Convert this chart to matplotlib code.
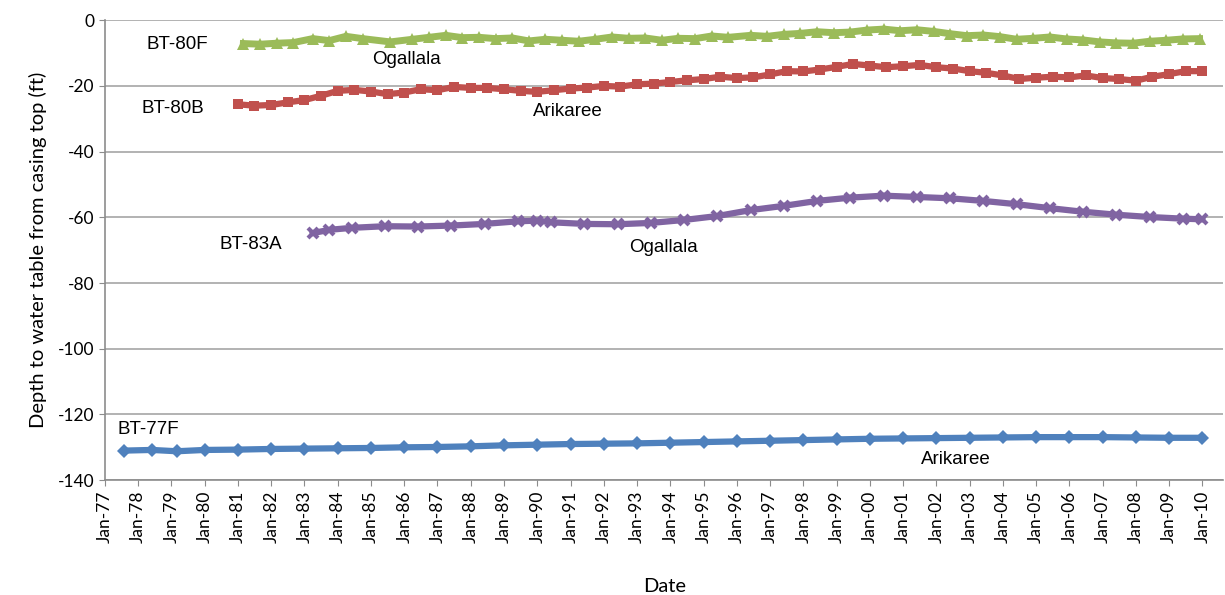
import matplotlib
matplotlib.use("Agg")
import matplotlib.pyplot as plt
import matplotlib.dates as mdates
import pandas as pd

plt.rcParams['axes.unicode_minus'] = False

# BT-80F (Ogallala)
dates_80f = ["1981-03", "1981-09", "1982-03", "1982-09", "1983-04", "1983-10", "1984-04", "1984-10",
             "1985-08", "1986-04", "1986-10", "1987-04", "1987-10", "1988-04", "1988-10", "1989-04",
             "1989-10", "1990-04", "1990-10", "1991-04", "1991-10", "1992-04", "1992-10", "1993-04",
             "1993-10", "1994-04", "1994-10", "1995-04", "1995-10", "1996-06", "1996-12", "1997-06",
             "1997-12", "1998-06", "1998-12", "1999-06", "1999-12", "2000-06", "2000-12", "2001-06",
             "2001-12", "2002-06", "2002-12", "2003-06", "2003-12", "2004-06", "2004-12", "2005-06",
             "2005-12", "2006-06", "2006-12", "2007-06", "2007-12", "2008-06", "2008-12", "2009-06",
             "2009-12"]
depth_80f = [-7.1, -7.3, -7.0, -6.8, -5.6, -6.2, -4.9, -5.6,
             -6.6, -5.8, -5.2, -4.6, -5.3, -5.2, -5.6, -5.4,
             -6.3, -5.8, -6.1, -6.4, -5.8, -5.1, -5.5, -5.4,
             -6.1, -5.5, -5.6, -4.8, -5.2, -4.6, -4.9, -4.3,
             -4.0, -3.5, -3.8, -3.6, -3.0, -2.7, -3.2, -2.9,
             -3.4, -4.1, -4.7, -4.5, -5.0, -5.8, -5.5, -5.1,
             -5.7, -6.0, -6.6, -6.9, -7.0, -6.4, -6.1, -5.7,
             -5.6]

# BT-80B (Arikaree)
dates_80b = ["1981-01", "1981-07", "1982-01", "1982-07", "1983-01", "1983-07", "1984-01", "1984-07",
             "1985-01", "1985-07", "1986-01", "1986-07", "1987-01", "1987-07", "1988-01", "1988-07",
             "1989-01", "1989-07", "1990-01", "1990-07", "1991-01", "1991-07", "1992-01", "1992-07",
             "1993-01", "1993-07", "1994-01", "1994-07", "1995-01", "1995-07", "1996-01", "1996-07",
             "1997-01", "1997-07", "1998-01", "1998-07", "1999-01", "1999-07", "2000-01", "2000-07",
             "2001-01", "2001-07", "2002-01", "2002-07", "2003-01", "2003-07", "2004-01", "2004-07",
             "2005-01", "2005-07", "2006-01", "2006-07", "2007-01", "2007-07", "2008-01", "2008-07",
             "2009-01", "2009-07", "2010-01"]
depth_80b = [-25.6, -26.0, -25.8, -25.0, -24.3, -23.0, -21.5, -21.2,
             -21.7, -22.5, -22.0, -21.0, -21.3, -20.3, -20.6, -20.6,
             -21.0, -21.5, -21.8, -21.3, -20.8, -20.5, -20.0, -20.2,
             -19.5, -19.3, -18.8, -18.3, -17.9, -17.2, -17.6, -17.4,
             -16.5, -15.5, -15.6, -15.0, -14.2, -13.3, -13.8, -14.3,
             -14.0, -13.6, -14.3, -14.7, -15.5, -16.0, -16.8, -17.9,
             -17.5, -17.2, -17.4, -16.8, -17.6, -17.9, -18.4, -17.2,
             -16.4, -15.5, -15.5]

# BT-83A (Ogallala)
dates_83a = ["1983-04", "1983-10", "1984-06", "1985-06", "1986-06", "1987-06", "1988-06", "1989-06",
             "1990-01", "1990-06", "1991-06", "1992-06", "1993-06", "1994-06", "1995-06", "1996-06",
             "1997-06", "1998-06", "1999-06", "2000-06", "2001-06", "2002-06", "2003-06", "2004-06",
             "2005-06", "2006-06", "2007-06", "2008-06", "2009-06", "2010-01"]
depth_83a = [-64.8, -63.8, -63.2, -62.7, -62.8, -62.5, -62.0, -61.2,
             -61.0, -61.5, -62.0, -62.1, -61.7, -60.8, -59.6, -57.8,
             -56.5, -55.0, -54.0, -53.4, -53.8, -54.2, -55.0, -56.0,
             -57.2, -58.3, -59.2, -59.9, -60.4, -60.6]

# BT-77F (Arikaree)
dates_77f = ["1977-08", "1978-06", "1979-03", "1980-01", "1981-01", "1982-01", "1983-01", "1984-01",
             "1985-01", "1986-01", "1987-01", "1988-01", "1989-01", "1990-01", "1991-01", "1992-01",
             "1993-01", "1994-01", "1995-01", "1996-01", "1997-01", "1998-01", "1999-01", "2000-01",
             "2001-01", "2002-01", "2003-01", "2004-01", "2005-01", "2006-01", "2007-01", "2008-01",
             "2009-01", "2010-01"]
depth_77f = [-131.0, -130.8, -131.2, -130.8, -130.7, -130.5, -130.4, -130.3,
             -130.2, -130.0, -129.9, -129.7, -129.4, -129.2, -129.0, -128.9,
             -128.8, -128.6, -128.4, -128.2, -128.0, -127.8, -127.6, -127.4,
             -127.3, -127.2, -127.1, -127.0, -126.9, -126.9, -126.9, -127.0,
             -127.1, -127.1]

fig = plt.figure(figsize=(12.25, 5.95), dpi=100)
ax = fig.add_axes([0.0857, 0.193, 0.913, 0.773])

ax.plot(pd.to_datetime(dates_80f), depth_80f, color="#9BBB59", lw=5, marker="^", ms=8.5, mew=0)
ax.plot(pd.to_datetime(dates_80b), depth_80b, color="#C0504D", lw=4.5, marker="s", ms=7.5, mew=0)
ax.plot(pd.to_datetime(dates_83a), depth_83a, color="#8064A2", lw=4.5, marker="x", ms=7, mew=3)
ax.plot(pd.to_datetime(dates_77f), depth_77f, color="#4F81BD", lw=4.5, marker="D", ms=7.5, mew=0)

ax.set_ylim(-140, 0)
ax.set_yticks(range(-140, 1, 20))
ax.set_xlim(pd.Timestamp("1977-01-01"), pd.Timestamp("2010-08-20"))
ax.xaxis.set_major_locator(mdates.YearLocator(1, month=1, day=1))
ax.xaxis.set_major_formatter(mdates.DateFormatter("%b-%y"))
plt.setp(ax.get_xticklabels(), rotation=90, ha="center")

ax.grid(axis="y", color="#A6A6A6", lw=1.2)
ax.set_axisbelow(True)
for s in ["top", "right"]:
    ax.spines[s].set_visible(False)
for s in ["left", "bottom"]:
    ax.spines[s].set_color("#8C8C8C")
    ax.spines[s].set_linewidth(1.2)
ax.tick_params(axis="both", length=4, color="#8C8C8C", labelsize=12.5)
for lab in ax.get_xticklabels() + ax.get_yticklabels():
    lab.set_family("Lato")

ax.set_ylabel("Depth to water table from casing top (ft)", family="Lato", fontsize=14.5, labelpad=8)
ax.set_xlabel("Date", family="Lato", fontsize=14.5, labelpad=25)

lbl = dict(family="Liberation Sans", fontsize=13.5, va="center", ha="left")
ax.text(pd.Timestamp("1978-04-01"), -7.3, "BT-80F", **lbl)
ax.text(pd.Timestamp("1985-01-10"), -11.9, "Ogallala", **lbl)
ax.text(pd.Timestamp("1978-02-01"), -26.8, "BT-80B", **lbl)
ax.text(pd.Timestamp("1989-11-10"), -27.7, "Arikaree", **lbl)
ax.text(pd.Timestamp("1980-06-15"), -68.2, "BT-83A", **lbl)
ax.text(pd.Timestamp("1992-10-10"), -69.1, "Ogallala", **lbl)
ax.text(pd.Timestamp("1977-05-20"), -124.5, "BT-77F", **lbl)
ax.text(pd.Timestamp("2001-07-20"), -133.6, "Arikaree", **lbl)

fig.savefig("out.png", dpi=100)
